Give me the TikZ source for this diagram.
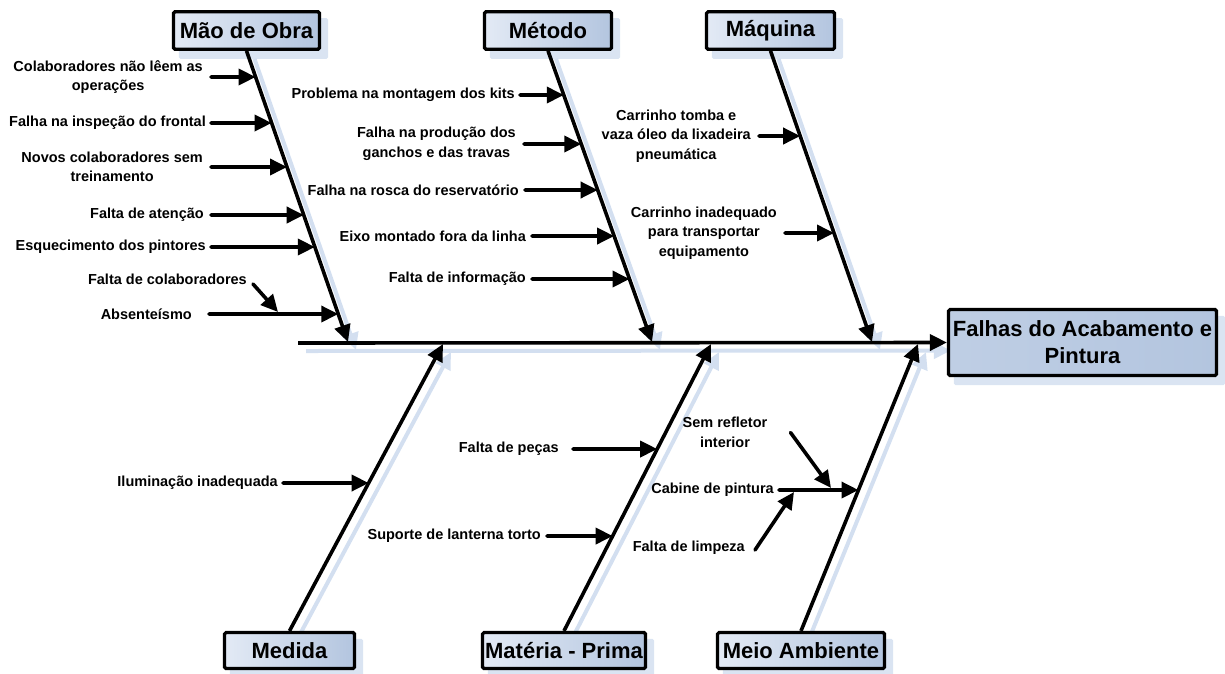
\documentclass[tikz,border=0pt]{standalone}
\usepackage{fontspec}
\setmainfont{Liberation Sans}
\usetikzlibrary{arrows.meta,calc}
\pgfdeclarelayer{bg}
\pgfsetlayers{bg,main}
\definecolor{shadeC}{HTML}{D3DFF0}
\definecolor{boxL}{HTML}{E3EAF5}
\definecolor{boxR}{HTML}{B3C5DF}
\definecolor{boxsh}{HTML}{DAE4F2}
\tikzset{
  lbl/.style={font=\bfseries\fontsize{14.5}{19.5}\selectfont, inner sep=0pt, align=center, anchor=east},
  cat/.style={draw=black, line width=3.2pt, rounded corners=1.5pt, left color=boxL, right color=boxR,
    font=\bfseries\fontsize{22}{27}\selectfont, inner sep=0pt, minimum height=37.5pt, align=center},
  arr/.style={line width=3.6pt, line cap=round, -{Triangle[length=17pt,width=16pt]}},
  bone/.style={line width=3.6pt, -{Triangle[length=17pt,width=16pt]}},
  shline/.style={line width=4pt, draw=shadeC, -{Triangle[length=17pt,width=16pt]}},
}
\begin{document}
\begin{tikzpicture}[x=1pt,y=-1pt]
\useasboundingbox (0,0) rectangle (1225,673);

% category boxes
\node[cat, minimum width=146pt] (mo) at (246.5,30.5) {Mão de Obra};
\node[cat, minimum width=127pt] (me) at (548,30.5) {Método};
\node[cat, minimum width=128pt] (ma) at (770.5,30.5) {Máquina};
\node[cat, minimum width=130pt, minimum height=36pt] (md) at (289.5,650.5) {Medida};
\node[cat, minimum width=163pt, minimum height=36pt] (mp) at (564,650.5) {Matéria - Prima};
\node[cat, minimum width=167pt, minimum height=36pt] (am) at (801,650.5) {Meio Ambiente};
\node[cat, minimum width=268pt, minimum height=66pt, left color=boxR!75!boxL] (ef) at (1082.5,342.5) {Falhas do Acabamento e\\Pintura};

% spine and bone ends
\coordinate (sp0) at (298,343);
\coordinate (moT) at (348,342);
\coordinate (meT) at (652,342);
\coordinate (maT) at (872,342);
\coordinate (mdT) at (443,344);
\coordinate (mpT) at (711,344);
\coordinate (amT) at (918,344);

% shadows
\begin{pgfonlayer}{bg}
  \foreach \n in {mo,me,ma,md,mp,am,ef}
    \fill[boxsh, rounded corners=1.5pt] ([shift={(7,8)}]\n.north west) rectangle ([shift={(7,8)}]\n.south east);
  \draw[shline] ([shift={(8,8)}]sp0) -- ([shift={(4,8)}]ef.west);
  \draw[shline] ([shift={(8,8)}]mo.south) -- ([shift={(8,8)}]moT);
  \draw[shline] ([shift={(8,8)}]me.south) -- ([shift={(8,8)}]meT);
  \draw[shline] ([shift={(8,8)}]ma.south) -- ([shift={(8,8)}]maT);
  \draw[shline] ([shift={(8,8)}]md.north) -- ([shift={(8,8)}]mdT);
  \draw[shline] ([shift={(8,8)}]mp.north) -- ([shift={(8,8)}]mpT);
  \draw[shline] ([shift={(8,8)}]am.north) -- ([shift={(8,8)}]amT);
\end{pgfonlayer}

% spine and bones
\draw[bone] (sp0) -- (ef.west);
\draw[bone] (mo.south) -- (moT);
\draw[bone] (me.south) -- (meT);
\draw[bone] (ma.south) -- (maT);
\draw[bone] (md.north) -- (mdT);
\draw[bone] (mp.north) -- (mpT);
\draw[bone] (am.north) -- (amT);

% Mao de Obra causes
\node[lbl] (a1) at (203,77) {Colaboradores não lêem as\\operações};
\node[lbl] (a2) at (206,123) {Falha na inspeção do frontal};
\node[lbl] (a3) at (203,167) {Novos colaboradores sem\\treinamento};
\node[lbl] (a4) at (204,215) {Falta de atenção};
\node[lbl] (a5) at (206,247) {Esquecimento dos pintores};
\node[lbl] (a6) at (247,279) {Falta de colaboradores};
\node[lbl] (a7) at (192,314) {Absenteísmo};
\coordinate (a6t) at (278,312);
\draw[arr] ([xshift=8pt]a1.east) -- (intersection of mo.south--moT and a1.east--a1.west);
\draw[arr] ([xshift=5pt]a2.east) -- (intersection of mo.south--moT and a2.east--a2.west);
\draw[arr] ([xshift=8pt]a3.east) -- (intersection of mo.south--moT and a3.east--a3.west);
\draw[arr] ([xshift=7pt]a4.east) -- (intersection of mo.south--moT and a4.east--a4.west);
\draw[arr] ([xshift=5pt]a5.east) -- (intersection of mo.south--moT and a5.east--a5.west);
\draw[arr] ([shift={(6,5)}]a6.east) -- (a6t);
\draw[arr] ([xshift=17pt]a7.east) -- (intersection of mo.south--moT and a7.east--a7.west);

% Metodo causes
\node[lbl] (b1) at (515,95) {Problema na montagem dos kits};
\node[lbl] (b2) at (516,144) {Falha na produção dos\\ganchos e das travas};
\node[lbl] (b3) at (519,190) {Falha na rosca do reservatório};
\node[lbl] (b4) at (526,236) {Eixo montado fora da linha};
\node[lbl] (b5) at (526,279) {Falta de informação};
\draw[arr] ([xshift=5pt]b1.east) -- (intersection of me.south--meT and b1.east--b1.west);
\draw[arr] ([xshift=8pt]b2.east) -- (intersection of me.south--meT and b2.east--b2.west);
\draw[arr] ([xshift=6pt]b3.east) -- (intersection of me.south--meT and b3.east--b3.west);
\draw[arr] ([xshift=6pt]b4.east) -- (intersection of me.south--meT and b4.east--b4.west);
\draw[arr] ([xshift=6pt]b5.east) -- (intersection of me.south--meT and b5.east--b5.west);

% Maquina causes
\node[lbl] (c1) at (751,136) {Carrinho tomba e\\vaza óleo da lixadeira\\pneumática};
\node[lbl] (c2) at (777,233) {Carrinho inadequado\\para transportar\\equipamento};
\draw[arr] ([xshift=8pt]c1.east) -- (intersection of ma.south--maT and c1.east--c1.west);
\draw[arr] ([xshift=8pt]c2.east) -- (intersection of ma.south--maT and c2.east--c2.west);

% Medida causes
\node[lbl] (d1) at (278,483) {Iluminação inadequada};
\draw[arr] ([xshift=5pt]d1.east) -- (intersection of md.north--mdT and d1.east--d1.west);

% Materia-Prima causes
\node[lbl] (e1) at (559,449) {Falta de peças};
\node[lbl] (e2) at (541,536) {Suporte de lanterna torto};
\draw[arr] ([xshift=14pt]e1.east) -- (intersection of mp.north--mpT and e1.east--e1.west);
\draw[arr] ([xshift=6pt]e2.east) -- (intersection of mp.north--mpT and e2.east--e2.west);

% Meio Ambiente causes
\node[lbl] (f1) at (774,490) {Cabine de pintura};
\node[lbl, anchor=center] (f2) at (725,432.5) {Sem refletor\\interior};
\node[lbl] (f3) at (745,548) {Falta de limpeza};
\coordinate (f2t) at (831,488);
\coordinate (f3t) at (794,492);
\draw[arr] ([xshift=5pt]f1.east) -- (intersection of am.north--amT and f1.east--f1.west);
\draw[arr] ([xshift=23pt]f2.east) -- (f2t);
\draw[arr] ([shift={(10,2)}]f3.east) -- (f3t);
\end{tikzpicture}
\end{document}
